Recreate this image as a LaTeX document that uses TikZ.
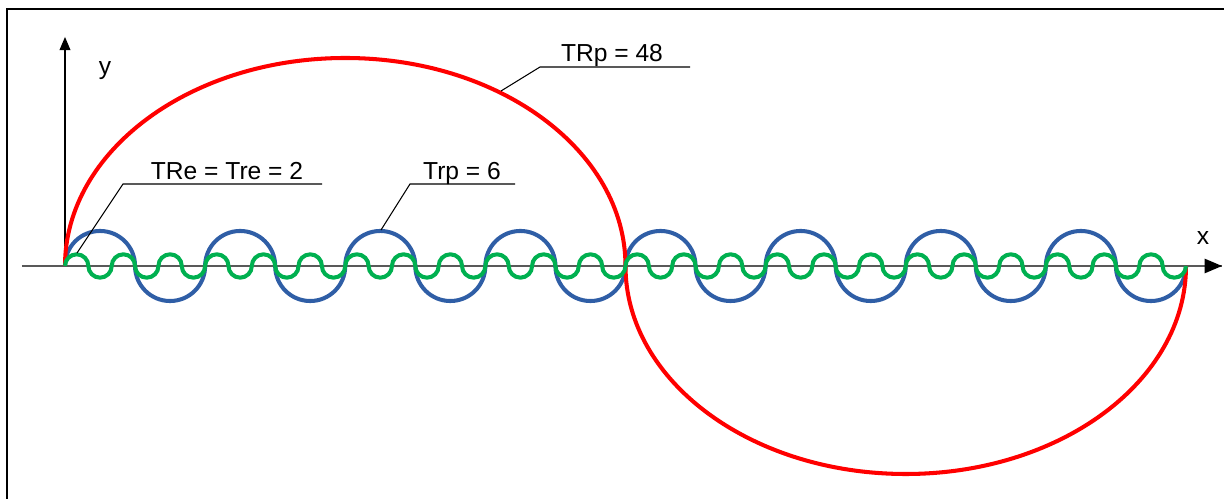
\documentclass[tikz,border=0pt]{standalone}
\usepackage{fontspec}
\setmainfont{Liberation Sans}
\usetikzlibrary{arrows}

\definecolor{wavered}{RGB}{255,0,0}
\definecolor{waveblue}{RGB}{47,94,166}
\definecolor{wavegreen}{RGB}{0,176,80}

\begin{document}
\begin{tikzpicture}[x=0.02cm, y=0.02cm, font=\fontsize{14}{17}\selectfont,
  curve/.style={line width=2.3pt},
  leader/.style={line width=0.6pt},
  lbl/.style={anchor=base, inner sep=0pt}]
\useasboundingbox (-65,-233) rectangle (1159,266);
% frame
\draw[line width=1.2pt] (-58,-233) -- (-58,257) -- (1159,257);
% axes
\coordinate (O) at (0,0);
\coordinate (xstart) at (-43,0);
\coordinate (xend) at (1157,0);
\coordinate (yend) at (0,229);
\draw[black!65, line width=1.3pt] (xstart) -- (xend);
\draw[-triangle 45, line width=1.3pt] (1140,0) -- (xend);
\draw[-triangle 45, line width=0.7pt] (O) -- (yend);
\node[lbl] (xlabel) at (1138,21) {x};
\node[lbl] (ylabel) at (40,191) {y};
% waves
\draw[curve, waveblue] (O) \foreach \i in {1,...,8}{
  arc[start angle=180, end angle=0, radius=35.03]
  arc[start angle=180, end angle=360, radius=35.03]};
\draw[curve, wavered] (O)
  arc[start angle=180, end angle=0, x radius=280.25, y radius=208]
  arc[start angle=180, end angle=360, x radius=280.25, y radius=208];
\draw[curve, wavegreen] (O) \foreach \i in {1,...,24}{
  arc[start angle=180, end angle=0, radius=11.677]
  arc[start angle=180, end angle=360, radius=11.677]};
% labels with leaders
\node[lbl] (trp48) at (547,204) {TRp = 48};
\coordinate (trp48 foot) at (436,175);
\coordinate (trp48 knee) at (475,199);
\coordinate (trp48 end) at (625,199);
\draw[leader] (trp48 foot) -- (trp48 knee) -- (trp48 end);

\node[lbl] (tre2) at (162,86) {TRe = Tre = 2};
\coordinate (tre2 foot) at (12,13);
\coordinate (tre2 knee) at (58,82);
\coordinate (tre2 end) at (257,82);
\draw[leader] (tre2 foot) -- (tre2 knee) -- (tre2 end);

\node[lbl] (trp6) at (397,86) {Trp = 6};
\coordinate (trp6 foot) at (316,36);
\coordinate (trp6 knee) at (345,82);
\coordinate (trp6 end) at (450,82);
\draw[leader] (trp6 foot) -- (trp6 knee) -- (trp6 end);
\end{tikzpicture}
\end{document}
